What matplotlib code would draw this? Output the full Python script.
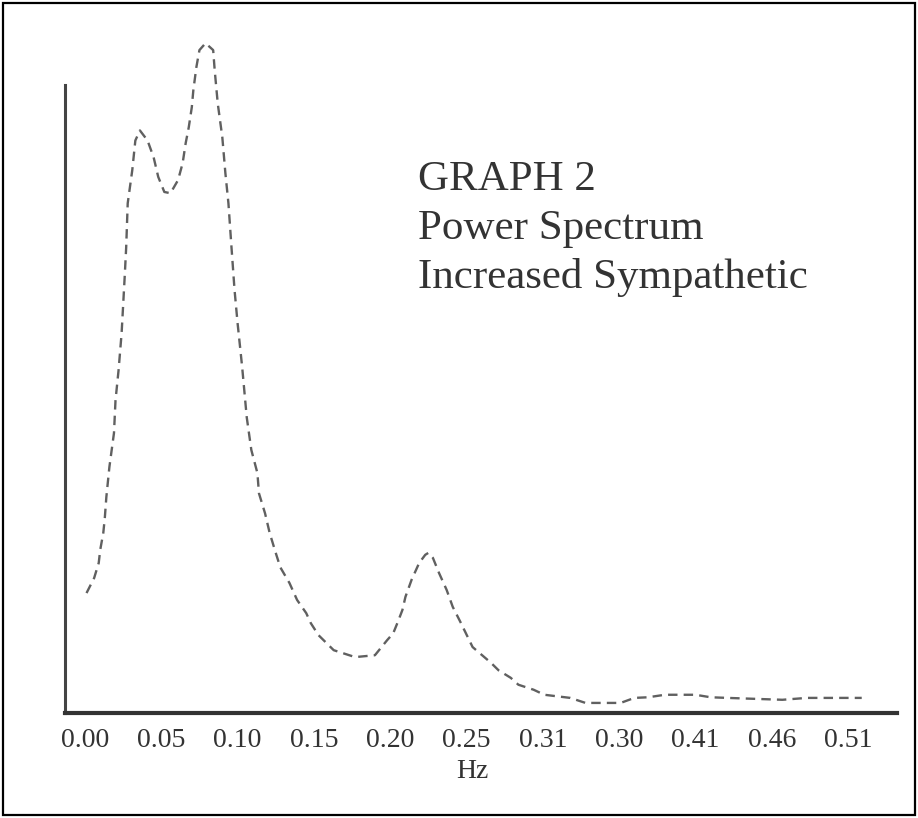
import matplotlib
matplotlib.use('Agg')
import matplotlib.pyplot as plt
from matplotlib.patches import Rectangle

# frequency (Hz, nominal axis scale) and power
freq = [0.001, 0.006, 0.009, 0.010, 0.012, 0.013, 0.014, 0.016, 0.019, 0.020,
        0.022, 0.024, 0.026, 0.027, 0.028, 0.031, 0.033, 0.036, 0.041, 0.045,
        0.048, 0.052, 0.056, 0.061, 0.064, 0.066, 0.068, 0.070, 0.071, 0.073,
        0.075, 0.079, 0.084, 0.085, 0.087, 0.090, 0.092, 0.094, 0.096, 0.098,
        0.100, 0.103, 0.106, 0.109, 0.113, 0.114, 0.118, 0.121, 0.125, 0.128,
        0.134, 0.139, 0.145, 0.148, 0.153, 0.163, 0.177, 0.190, 0.198, 0.202,
        0.205, 0.208, 0.210, 0.214, 0.219, 0.223, 0.225, 0.228, 0.232, 0.237,
        0.241, 0.246, 0.254, 0.266, 0.271, 0.279, 0.284, 0.294, 0.301, 0.318,
        0.328, 0.351, 0.360, 0.369, 0.380, 0.400, 0.410, 0.421, 0.457, 0.473,
        0.509]
power = [19.1, 21.5, 23.9, 26.0, 28.7, 31.1, 34.4, 39.2, 44.6, 49.8,
         54.6, 60.5, 69.4, 74.2, 81.2, 86.5, 91.2, 92.8, 91.2, 88.5,
         85.4, 83.0, 82.8, 84.9, 87.6, 90.8, 93.3, 96.5, 99.2, 102.9,
         105.6, 106.7, 105.6, 102.4, 97.1, 91.7, 86.0, 81.2, 74.2, 67.4,
         62.1, 55.1, 47.1, 41.9, 38.2, 35.0, 31.8, 28.7, 25.5, 23.2,
         20.7, 18.0, 15.9, 14.3, 12.4, 10.0, 8.9, 9.2, 11.6, 12.7,
         14.5, 16.4, 18.5, 21.2, 23.9, 25.2, 25.5, 24.7, 22.3, 19.6,
         16.9, 14.5, 10.5, 8.0, 6.8, 5.6, 4.5, 3.7, 2.9, 2.4,
         1.6, 1.6, 2.4, 2.5, 2.9, 2.9, 2.5, 2.4, 2.1, 2.4,
         2.4]

tick_pos = [0.00, 0.05, 0.10, 0.15, 0.20, 0.25, 0.30, 0.35, 0.40, 0.45, 0.50]
tick_labels = ['0.00', '0.05', '0.10', '0.15', '0.20', '0.25', '0.31', '0.30', '0.41', '0.46', '0.51']
title_lines = ['GRAPH 2', 'Power Spectrum', 'Increased Sympathetic']

fig = plt.figure(figsize=(9.18, 8.18), dpi=100)
ax = fig.add_axes([0.0708, 0.1284, 0.9063, 0.8349])

ax.plot(freq, power, color='#606060', linewidth=1.7, linestyle=(0, (4, 2.6)))

ax.set_xlim(-0.0131, 0.5321)
ax.set_ylim(0, 108.8)

ax.spines['top'].set_visible(False)
ax.spines['right'].set_visible(False)
ax.spines['left'].set_bounds(0, 100)
ax.spines['left'].set_linewidth(2.2)
ax.spines['left'].set_color('#444444')
ax.spines['bottom'].set_linewidth(3)
ax.spines['bottom'].set_color('#333333')

ax.set_xticks(tick_pos)
ax.set_xticklabels(tick_labels, family='Liberation Serif', fontsize=20, color='#333333')
ax.tick_params(axis='x', length=0, pad=11)
ax.set_yticks([])
ax.set_xlabel('Hz', family='Liberation Serif', fontsize=20, color='#333333')
ax.xaxis.set_label_coords(0.49, -0.068)

for i, line in enumerate(title_lines):
    fig.text(418 / 918, 1 - (190 + 49 * i) / 818, line, family='Liberation Serif',
             fontsize=31, color='#333333', va='baseline', ha='left')

fig.patches.append(Rectangle((3 / 918, 3 / 818), 912 / 918, 812 / 818, transform=fig.transFigure,
                             fill=False, edgecolor='black', linewidth=1.6))

fig.savefig('out.png', dpi=100)
